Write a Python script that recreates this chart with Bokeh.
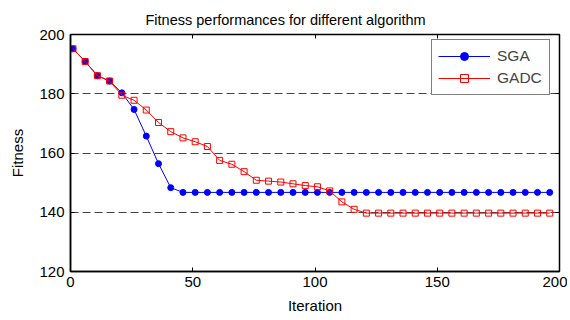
from bokeh.plotting import figure
from bokeh.models import LinearAxis, Range1d, FixedTicker, Legend, LegendItem, Title
from bokeh.embed import file_html
from bokeh.resources import INLINE

# Data (markers every 5 iterations starting at 1)
iterations = [1, 6, 11, 16, 21, 26, 31, 36, 41, 46, 51, 56, 61, 66, 71, 76, 81, 86, 91, 96,
              101, 106, 111, 116, 121, 126, 131, 136, 141, 146, 151, 156, 161, 166, 171, 176,
              181, 186, 191, 196]
sga = [195.2, 190.9, 186.1, 184.3, 180.3, 174.7, 165.7, 156.4, 148.3, 146.7,
       146.7, 146.7, 146.7, 146.7, 146.7, 146.7, 146.7, 146.7, 146.7, 146.7,
       146.7, 146.7, 146.7, 146.7, 146.7, 146.7, 146.7, 146.7, 146.7, 146.7,
       146.7, 146.7, 146.7, 146.7, 146.7, 146.7, 146.7, 146.7, 146.7, 146.7]
gadc = [195.2, 190.9, 186.1, 184.3, 179.5, 177.8, 174.5, 170.3, 167.2, 165.1,
        163.8, 162.2, 157.5, 156.2, 153.7, 150.8, 150.5, 150.2, 149.6, 149.0,
        148.6, 147.2, 143.5, 141.0, 139.7, 139.7, 139.7, 139.7, 139.7, 139.7,
        139.7, 139.7, 139.7, 139.7, 139.7, 139.7, 139.7, 139.7, 139.7, 139.7]
x_ticks = [0, 50, 100, 150, 200]
y_ticks = [120, 140, 160, 180, 200]
title_text = "Fitness performances for different algorithm"

FONT = "Liberation Sans"

p = figure(width=567, height=316, output_backend="svg", toolbar_location=None,
           x_range=Range1d(0, 200), y_range=Range1d(120, 200),
           min_border_left=70, min_border_right=8, min_border_top=34, min_border_bottom=44,
           x_axis_label="Iteration", y_axis_label="Fitness")
p.title = Title(text=title_text, align="left", offset=75, text_font=FONT, text_font_size="14.5px",
                text_font_style="normal", text_color="black", standoff=14, text_line_height=1.0)
p.outline_line_color = "black"
p.outline_line_width = 1.5
p.background_fill_color = "white"
p.border_fill_color = "white"

p.xgrid.visible = False
p.ygrid.ticker = FixedTicker(ticks=y_ticks)
p.ygrid.grid_line_color = "#444444"
p.ygrid.grid_line_dash = "8 4"
p.ygrid.grid_line_width = 1

for ax, tk in ((p.xaxis[0], x_ticks), (p.yaxis[0], y_ticks)):
    ax.ticker = FixedTicker(ticks=tk)
    ax.major_tick_in = 4
    ax.major_tick_out = 0
    ax.minor_tick_line_color = None
    ax.axis_line_color = "black"
    ax.axis_line_width = 1.5
    ax.major_label_text_font = FONT
    ax.major_label_text_font_size = "15px"
    ax.major_label_text_color = "black"
    ax.axis_label_text_font = FONT
    ax.axis_label_text_font_size = "15px"
    ax.axis_label_text_font_style = "normal"
    ax.axis_label_text_color = "black"
p.xaxis[0].major_label_standoff = 5
p.xaxis[0].axis_label_standoff = 7
p.yaxis[0].major_label_standoff = 6
p.yaxis[0].axis_label_standoff = 10

top = LinearAxis(ticker=FixedTicker(ticks=x_ticks), major_label_text_font_size="0px",
                 major_tick_in=4, major_tick_out=0, minor_tick_line_color=None,
                 axis_line_color=None, major_label_text_color=None, major_label_standoff=0)
right = LinearAxis(ticker=FixedTicker(ticks=y_ticks), major_label_text_font_size="0px",
                   major_tick_in=4, major_tick_out=0, minor_tick_line_color=None,
                   axis_line_color=None, major_label_text_color=None, major_label_standoff=0)
p.add_layout(top, "above")
p.add_layout(right, "right")

l1 = p.line(iterations, sga, line_color="#0000ff", line_width=1)
m1 = p.scatter(iterations, sga, marker="circle", size=6, fill_color="#0000ff", line_color="#0000ff")
l2 = p.line(iterations, gadc, line_color="#ff0000", line_width=1)
m2 = p.scatter(iterations, gadc, marker="square", size=6, fill_color=None, line_color="#ff0000")

legend = Legend(items=[LegendItem(label="SGA", renderers=[l1, m1]),
                       LegendItem(label="GADC", renderers=[l2, m2])],
                location=(361, 176), border_line_color="black", border_line_width=1.2,
                label_text_font=FONT, label_text_font_size="15.5px", glyph_width=52,
                label_width=46, label_standoff=7, glyph_height=20, label_height=20,
                spacing=2, padding=6, margin=0, background_fill_alpha=1)
p.add_layout(legend)

open("out.html", "w").write(file_html(p, INLINE))
